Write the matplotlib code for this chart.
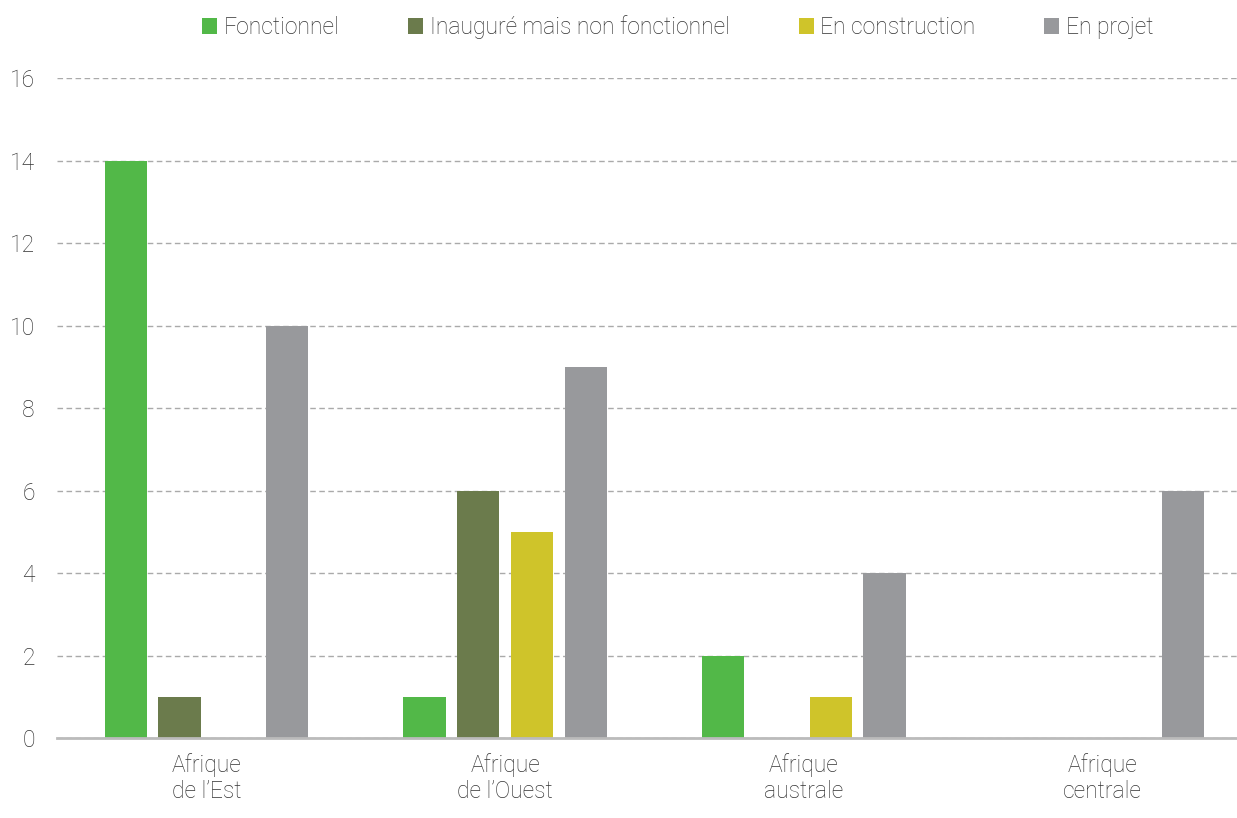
import matplotlib.pyplot as plt
from matplotlib.patches import Patch
import numpy as np

plt.rcParams['font.family'] = ['Roboto', 'DejaVu Sans']

# Data
regions = ["Afrique\nde l\u2019Est", "Afrique\nde l\u2019Ouest", "Afrique\naustrale", "Afrique\ncentrale"]
series_names = ["Fonctionnel", "Inaugur\u00e9 mais non fonctionnel", "En construction", "En projet"]
fonctionnel = [14, 1, 2, 0]
inaugure = [1, 6, 0, 0]
construction = [0, 5, 1, 0]
projet = [10, 9, 4, 6]
colors = ["#52b848", "#6b7b4c", "#cfc42a", "#98999c"]

series = [fonctionnel, inaugure, construction, projet]
offsets = [-0.27, -0.09, 0.09, 0.27]
bar_w = 0.142
text_col = "#333333"
fs = 16.5

fig = plt.figure(figsize=(12.37, 8.18), dpi=100)
ax = fig.add_axes([0.0461, 0.0978, 0.966, 0.8068])

x = np.arange(len(regions))
for vals, off, col in zip(series, offsets, colors):
    ax.bar(x + off, vals, width=bar_w, color=col, zorder=3)

ax.set_xlim(-0.5, 3.5)
ax.set_ylim(0, 16)
ax.set_yticks(range(0, 17, 2))
ax.set_xticks(x)
ax.set_xticklabels(regions, fontsize=fs, color=text_col, fontweight='light', linespacing=1.15)
ax.tick_params(axis='y', labelsize=fs, labelcolor=text_col, length=0, pad=16)
ax.tick_params(axis='x', length=0, pad=11)
for lbl in ax.get_yticklabels():
    lbl.set_fontweight('light')

ax.yaxis.grid(True, linestyle=(0, (4, 2.5)), color="#aaaaaa", linewidth=1, zorder=0)
for s in ["top", "right", "left"]:
    ax.spines[s].set_visible(False)
ax.spines["bottom"].set_color("#bbbbbb")
ax.spines["bottom"].set_linewidth(2)
ax.spines["bottom"].set_zorder(4)

handles = [Patch(facecolor=c, label=n) for c, n in zip(colors, series_names)]
leg = fig.legend(handles=handles, loc="center", bbox_to_anchor=(0.548, 0.967), ncol=4,
                 frameon=False, fontsize=fs, handlelength=0.65, handleheight=0.65,
                 handletextpad=0.3, columnspacing=3.0)
for t in leg.get_texts():
    t.set_color(text_col)
    t.set_fontweight('light')

fig.savefig("out.png", dpi=100)
